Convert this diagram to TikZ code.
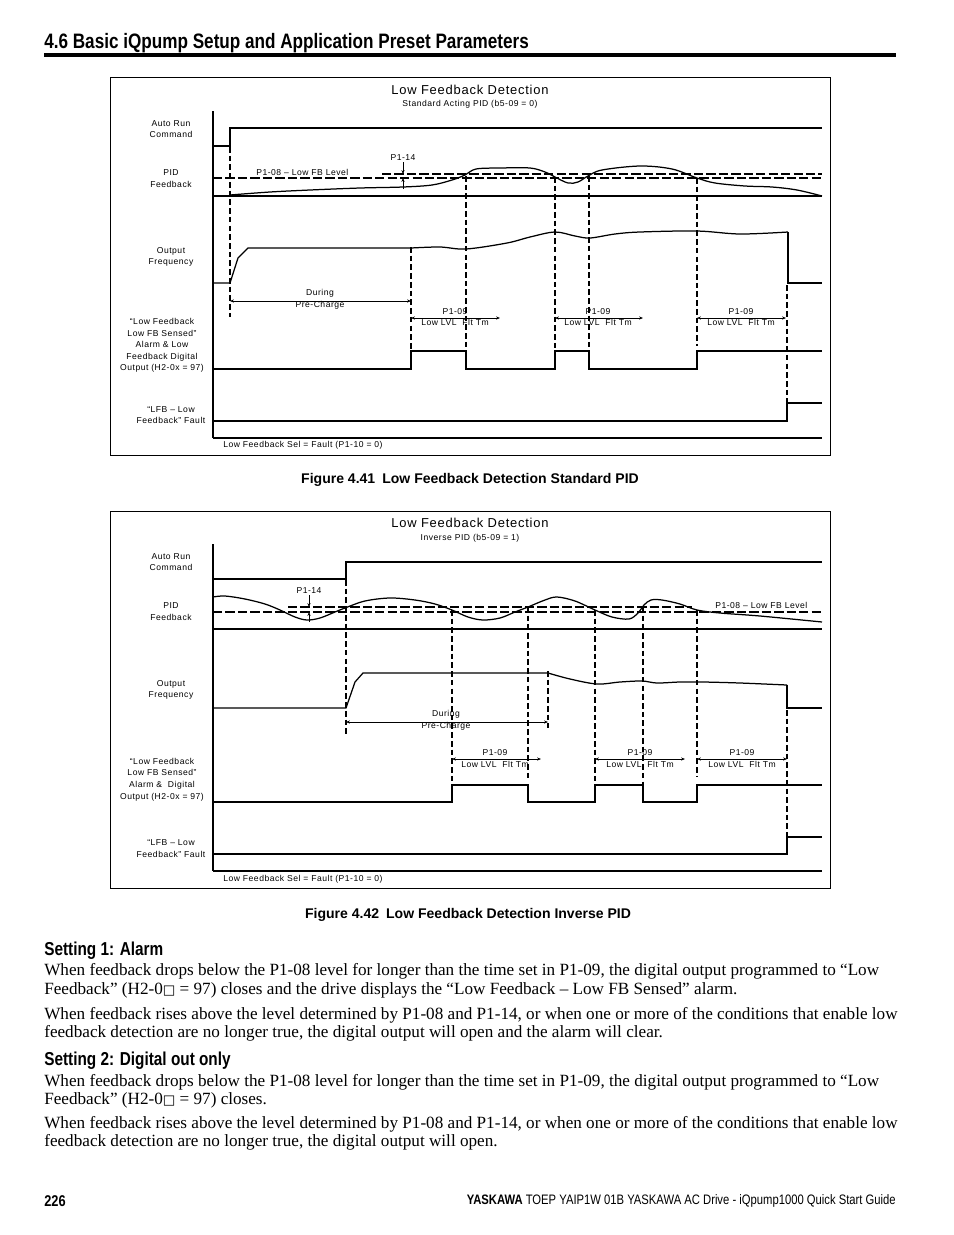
\documentclass[tikz,border=0pt]{standalone}
\usepackage{fontspec}
\setmainfont{Liberation Serif}
\setsansfont{Liberation Sans}
\newfontfamily\narrowfont[FakeStretch=0.82]{Liberation Sans}
\newfontfamily\diagfont[LetterSpace=6]{Liberation Sans}
\newfontfamily\symfont{DejaVu Sans}
\usepackage{tikz}
\usetikzlibrary{arrows.meta}

\begin{document}
\begin{tikzpicture}[x=0.6415pt, y=-0.6415pt,
  sig/.style={line width=1.3pt},
  axisthin/.style={line width=0.7pt},
  fbcurve/.style={line width=0.8pt},
  lvl/.style={line width=1.6pt, dash pattern=on 6pt off 2pt},
  vline/.style={line width=1.6pt, dash pattern=on 3.6pt off 2pt},
  span/.style={line width=0.5pt, {Stealth[length=2.5pt,width=2pt]}-{Stealth[length=2.5pt,width=2pt]}},
  tip/.style={line width=0.5pt, -{Stealth[length=2.5pt,width=2pt]}},
  lbl/.style={font=\diagfont\fontsize{5.5}{7.4}\selectfont, align=center, inner sep=0pt},
  ttl/.style={font=\diagfont\fontsize{8.3}{9}\selectfont, inner sep=0pt},
  bodytxt/.style={font=\fontsize{11}{13}\selectfont, anchor=west, inner sep=0pt},
  headtxt/.style={font=\narrowfont\bfseries\fontsize{12}{14}\selectfont, anchor=west, inner sep=0pt},
  captxt/.style={font=\sffamily\bfseries\fontsize{9}{10}\selectfont, inner sep=0pt}]
\useasboundingbox (0,0) rectangle (954,1235);

\node[headtxt, font=\narrowfont\bfseries\fontsize{13.4}{15}\selectfont] (sect) at (44,43) {4.6 Basic iQpump Setup and Application Preset Parameters};
\draw[line width=2pt] (44,55) -- (896,55);

% Figure 4.41
\draw[line width=0.6pt] (110,77) rectangle (830,455);
\node[ttl] (ttlA) at (470,90) {Low Feedback Detection};
\node[lbl] (subA) at (470,104) {Standard Acting PID (b5-09 = 0)};
\node[lbl] (runA) at (171,129) {Auto Run\\Command};
\node[lbl] (pidA) at (171,178.5) {PID\\Feedback};
\node[lbl] (frqA) at (171,257) {Output\\Frequency};
\node[lbl] (almA) at (162,345.5) {“Low Feedback\\Low FB Sensed”\\Alarm \& Low\\Feedback Digital\\Output (H2-0x = 97)};
\node[lbl] (fltA) at (171,415) {“LFB – Low\\Feedback” Fault};
\draw[line width=1pt] (213,111) -- (213,438);
\draw[sig] (213,146) -- (230,146) -- (230,128) -- (822,128);
\draw[axisthin] (213,196) -- (822,196);
\draw[lvl] (213,178) -- (822,178);
\draw[lvl] (382,174) -- (822,174);
\node[lbl, anchor=west] (lowA) at (256,172) {P1-08 – Low FB Level};
\node[lbl] (hysA) at (403,158) {P1-14};
\draw[tip] (403,162) -- (403,174);
\draw[tip] (403,189) -- (403,178);
\draw[fbcurve] plot[smooth, tension=0.55] coordinates {(230,195) (270,192) (310,190) (360,188) (403,187) (432,185) (452,180) (465,175) (476,169) (500,168) (530,168) (545,172) (555,177) (568,183) (578,182) (588,176) (602,170) (640,166) (672,169) (697,178) (715,183) (745,186) (772,187) (797,190) (822,196)};
\draw[fbcurve] (213,283) -- (230,283) -- (238,258) -- (248,248) -- (411,248);
\draw[fbcurve] plot[smooth, tension=0.55] coordinates {(411,248) (440,247) (466,249) (507,243) (530,237) (555,232) (575,236) (590,238) (615,234) (640,232) (697,231) (740,234) (788,232)};
\draw[fbcurve] (788,232) -- (788,283) -- (822,283);
\foreach \x/\a/\b in {230/147/317, 411/247/352, 466/176/352, 555/177/352, 589/176/352, 697/178/346, 787/285/404}
  \draw[vline] (\x,\a) -- (\x,\b);
\draw[span] (230,301) -- (411,301);
\node[lbl] (preA) at (320,299.5) {During\\Pre-Charge};
\draw[span] (411,318) -- (500,318);
\draw[span] (555,318) -- (643,318);
\draw[span] (697,318) -- (786,318);
\node[lbl] (tmA1) at (455,317) {P1-09\\Low LVL~ Flt Tm};
\node[lbl] (tmA2) at (598,317) {P1-09\\Low LVL~ Flt Tm};
\node[lbl] (tmA3) at (741,317) {P1-09\\Low LVL~ Flt Tm};
\draw[sig] (213,369) -- (411,369) -- (411,351) -- (466,351) -- (466,369) -- (555,369) -- (555,351) -- (589,351) -- (589,369) -- (697,369) -- (697,351) -- (822,351);
\draw[sig] (213,421) -- (787,421) -- (787,403) -- (822,403);
\draw[sig] (213,438) -- (822,438);
\node[lbl, anchor=west] (selA) at (223,445) {Low Feedback Sel = Fault (P1-10 = 0)};
\node[captxt] (capA) at (470,480) {Figure 4.41\enspace Low Feedback Detection Standard PID};

% Figure 4.42
\draw[line width=0.6pt] (110,511) rectangle (830,888);
\node[ttl] (ttlB) at (470,523) {Low Feedback Detection};
\node[lbl] (subB) at (470,538) {Inverse PID (b5-09 = 1)};
\node[lbl] (runB) at (171,562) {Auto Run\\Command};
\node[lbl] (pidB) at (171,611.5) {PID\\Feedback};
\node[lbl] (frqB) at (171,690) {Output\\Frequency};
\node[lbl] (almB) at (162,779.5) {“Low Feedback\\Low FB Sensed”\\Alarm \&~ Digital\\Output (H2-0x = 97)};
\node[lbl] (fltB) at (171,848.5) {“LFB – Low\\Feedback” Fault};
\draw[line width=1pt] (213,544) -- (213,871);
\draw[sig] (213,579) -- (346,579) -- (346,562) -- (822,562);
\draw[axisthin] (213,629) -- (822,629);
\draw[lvl] (213,612) -- (822,612);
\draw[lvl] (288,607) -- (692,607);
\node[lbl, anchor=west] (lowB) at (715,605) {P1-08 – Low FB Level};
\node[lbl] (hysB) at (309,591) {P1-14};
\draw[tip] (309,595) -- (309,607);
\draw[tip] (309,622) -- (309,612);
\draw[fbcurve] plot[smooth, tension=0.55] coordinates {(213,597) (225,596) (245,599) (265,604) (280,610) (295,617) (307,620) (320,618) (335,612) (345,608) (365,601) (390,598) (415,600) (435,604) (452,610) (468,617) (483,620) (500,618) (515,612) (528,607) (545,600) (557,597) (575,601) (595,610) (612,617) (629,619) (638,613) (644,605) (651,600) (662,600) (680,604) (697,610) (720,613) (760,616) (822,622)};
\draw[fbcurve] (213,708) -- (346,708) -- (355,682) -- (363,673) -- (548,673);
\draw[fbcurve] plot[smooth, tension=0.55] coordinates {(548,673) (570,679) (597,684) (620,682) (642,681) (657,683) (680,682) (703,682) (740,683) (787,685)};
\draw[fbcurve] (787,685) -- (787,708) -- (822,708);
\foreach \x/\a/\b in {346/580/737, 452/610/783, 528/607/780, 548/671/728, 595/610/782, 643/607/800, 697/610/777, 787/710/836}
  \draw[vline] (\x,\a) -- (\x,\b);
\draw[span] (346,722) -- (548,722);
\node[lbl] (preB) at (446,720.5) {During\\Pre-Charge};
\draw[span] (452,759) -- (541,759);
\draw[span] (595,759) -- (685,759);
\draw[span] (697,759) -- (787,759);
\node[lbl] (tmB1) at (495,758.5) {P1-09\\Low LVL~ Flt Tm};
\node[lbl] (tmB2) at (640,758.5) {P1-09\\Low LVL~ Flt Tm};
\node[lbl] (tmB3) at (742,758.5) {P1-09\\Low LVL~ Flt Tm};
\draw[sig] (213,802) -- (452,802) -- (452,785) -- (528,785) -- (528,802) -- (595,802) -- (595,785) -- (643,785) -- (643,802) -- (697,802) -- (697,785) -- (822,785);
\draw[sig] (213,854) -- (787,854) -- (787,837) -- (822,837);
\draw[sig] (213,871) -- (822,871);
\node[lbl, anchor=west] (selB) at (223,879) {Low Feedback Sel = Fault (P1-10 = 0)};
\node[captxt] (capB) at (468,915) {Figure 4.42\enspace Low Feedback Detection Inverse PID};

% text below
\node[headtxt] (setA) at (44,951) {Setting 1: Alarm};
\node[bodytxt] (pA1) at (44,971) {When feedback drops below the P1-08 level for longer than the time set in P1-09, the digital output programmed to “Low};
\node[bodytxt] (pA2) at (44,990) {Feedback” (H2-0{\symfont\fontsize{8.5}{11}\selectfont □} = 97) closes and the drive displays the “Low Feedback – Low FB Sensed” alarm.};
\node[bodytxt] (pB1) at (44,1015) {When feedback rises above the level determined by P1-08 and P1-14, or when one or more of the conditions that enable low};
\node[bodytxt] (pB2) at (44,1033) {feedback detection are no longer true, the digital output will open and the alarm will clear.};
\node[headtxt] (setB) at (44,1061) {Setting 2: Digital out only};
\node[bodytxt] (pC1) at (44,1082) {When feedback drops below the P1-08 level for longer than the time set in P1-09, the digital output programmed to “Low};
\node[bodytxt] (pC2) at (44,1100) {Feedback” (H2-0{\symfont\fontsize{8.5}{11}\selectfont □} = 97) closes.};
\node[bodytxt] (pD1) at (44,1124) {When feedback rises above the level determined by P1-08 and P1-14, or when one or more of the conditions that enable low};
\node[bodytxt] (pD2) at (44,1142) {feedback detection are no longer true, the digital output will open.};

\node[headtxt, font=\narrowfont\bfseries\fontsize{10}{12}\selectfont] (pgno) at (44,1201) {226};
\node[headtxt, anchor=east, font=\narrowfont\fontsize{8.8}{10}\selectfont] (foot) at (896,1201) {\bfseries YASKAWA\mdseries{} TOEP YAIP1W 01B YASKAWA AC Drive - iQpump1000 Quick Start Guide};
\end{tikzpicture}
\end{document}
